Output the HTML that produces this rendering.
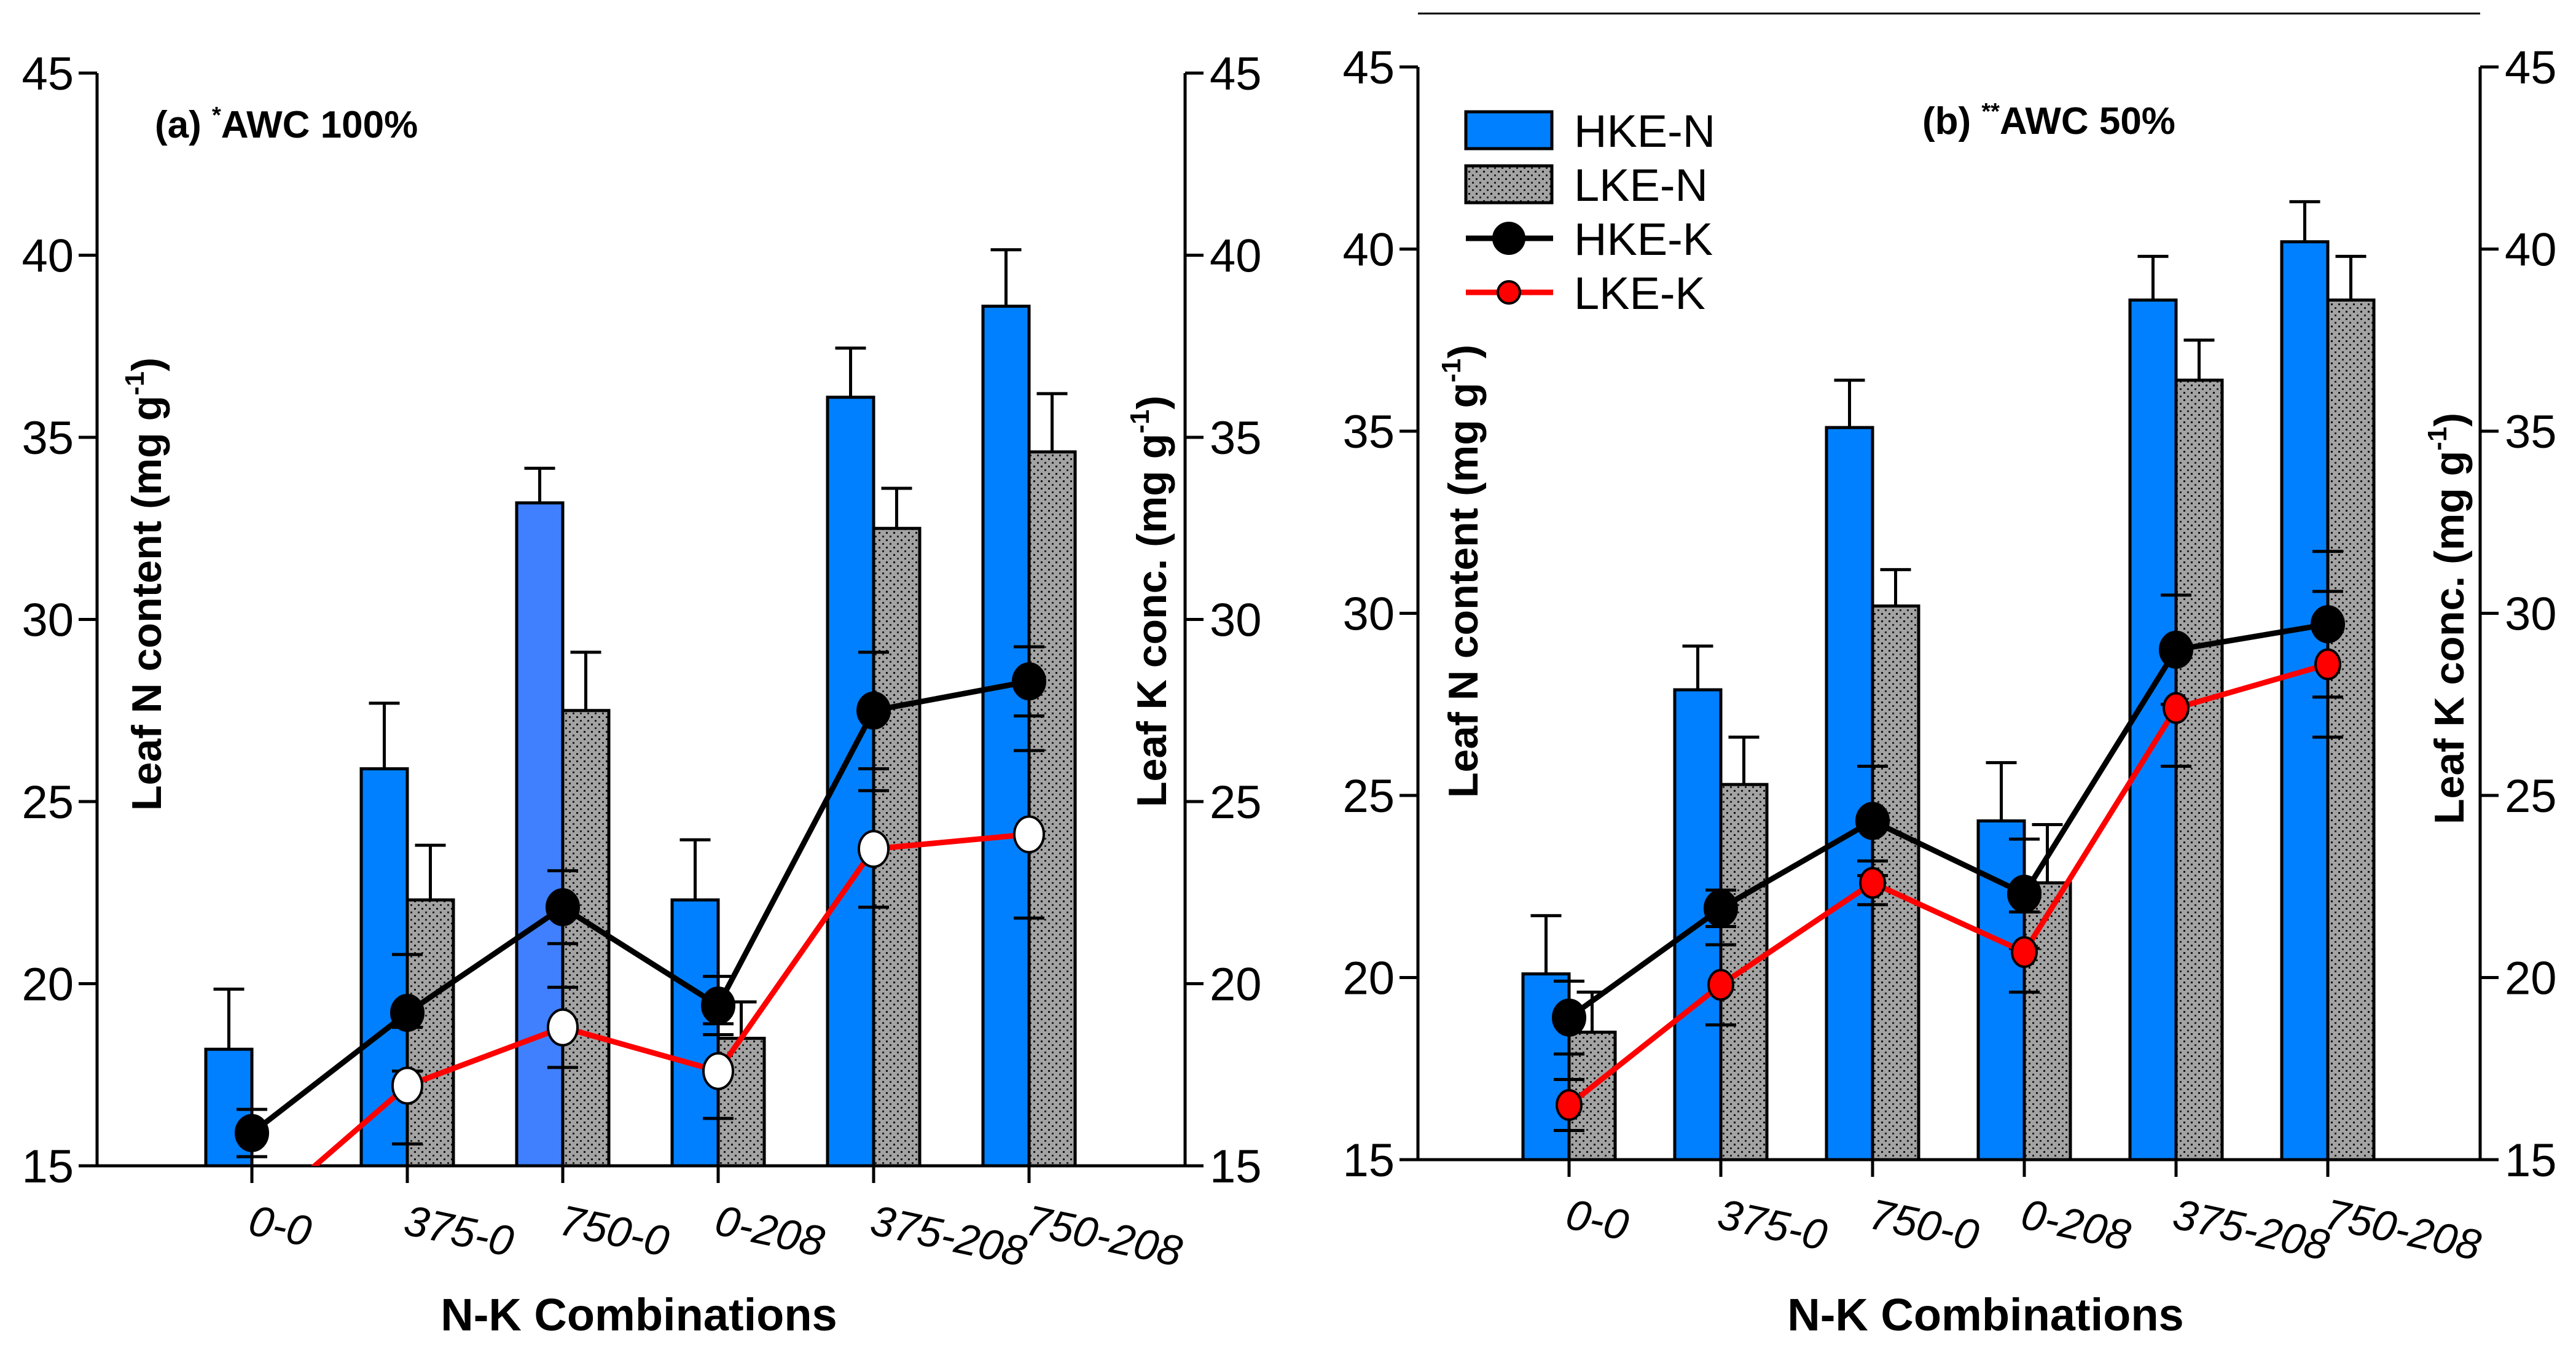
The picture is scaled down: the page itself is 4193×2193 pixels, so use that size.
<!DOCTYPE html>
<html><head><meta charset="utf-8"><style>
html,body{margin:0;padding:0;background:#fff}
svg{display:block}
text{font-family:"Liberation Sans",Arial,sans-serif}
</style></head><body>
<svg id="chart" xmlns="http://www.w3.org/2000/svg" width="4193" height="2193" viewBox="0 0 4193 2193">
<defs>
<pattern id="dots" width="12" height="12" patternUnits="userSpaceOnUse">
<rect width="12" height="12" fill="#a3a3a3"/>
<rect x="2" y="2" width="3" height="3" fill="#111"/>
<rect x="8" y="8" width="3" height="3" fill="#222"/>
</pattern>
<clipPath id="clipA"><rect x="158" y="60" width="1771" height="1838"/></clipPath>
<clipPath id="clipB"><rect x="2308" y="50" width="1729" height="1838"/></clipPath>
</defs>
<line x1="2308" y1="22" x2="4037" y2="22" stroke="#000" stroke-width="3"/>
</svg>
<script>
const categories = ["0-0","375-0","750-0","0-208","375-208","750-208"];
const yTicks = [15,20,25,30,35,40,45];
// Panel (a) AWC 100%
const aHkeN = [18.2,25.9,33.2,22.3,36.1,38.6];
const aHkeNErr = [1.65,1.8,0.95,1.65,1.35,1.55];
const aLkeN = [14,22.3,27.5,18.5,32.5,34.6];
const aLkeNErr = [0,1.5,1.6,1.0,1.1,1.6];
const aHkeK = [15.9,19.2,22.1,19.4,27.5,28.3];
const aHkeKErr = [0.65,1.6,1.0,0.8,1.6,0.95];
const aLkeK = [13.5,17.2,18.8,17.6,23.7,24.1];
const aLkeKErr = [0,1.6,1.1,1.3,1.6,2.3];
// Panel (b) AWC 50%
const bHkeN = [20.1,27.9,35.1,24.3,38.6,40.2];
const bHkeNErr = [1.6,1.2,1.3,1.6,1.2,1.1];
const bLkeN = [18.5,25.3,30.2,22.6,36.4,38.6];
const bLkeNErr = [1.1,1.3,1.0,1.6,1.1,1.2];
const bHkeK = [18.9,21.9,24.3,22.3,29.0,29.7];
const bHkeKErr = [1.0,0.5,1.5,1.5,1.5,2.0];
const bLkeK = [16.5,19.8,22.6,20.7,27.4,28.6];
const bLkeKErr = [0.7,1.1,0.6,1.1,1.6,2.0];

const NS="http://www.w3.org/2000/svg";
const svg=document.getElementById('chart');
function mk(tag,attrs,parent){const e=document.createElementNS(NS,tag);for(const k in attrs)e.setAttribute(k,attrs[k]);(parent||svg).appendChild(e);return e;}

function panel(p){
  const g=mk('g',{});
  
  
  const y=v=>p.y15-(v-15)*(p.y15-p.y45)/30;
  const x=i=>p.x0+i*p.dx;
  const bw=75;
  const axes=mk('g',{},g);
  
  
  mk('line',{x1:p.L,y1:p.y45,x2:p.L,y2:p.y15,stroke:'#000','stroke-width':5},axes);
  mk('line',{x1:p.R,y1:p.y45,x2:p.R,y2:p.y15,stroke:'#000','stroke-width':5},axes);
  mk('line',{x1:p.L,y1:p.y15,x2:p.R,y2:p.y15,stroke:'#000','stroke-width':5},axes);
  yTicks.forEach(t=>{
    mk('line',{x1:p.L-30,y1:y(t),x2:p.L,y2:y(t),stroke:'#000','stroke-width':5},axes);
    mk('line',{x1:p.R,y1:y(t),x2:p.R+30,y2:y(t),stroke:'#000','stroke-width':5},axes);
    const tl=mk('text',{x:p.L-38,y:y(t)+27,'text-anchor':'end','font-size':76},axes);tl.textContent=t;
    
    
    const tr=mk('text',{x:p.R+40,y:y(t)+27,'text-anchor':'start','font-size':76},axes);tr.textContent=t;
    
    
  });
  categories.forEach((c,i)=>{
    mk('line',{x1:x(i),y1:p.y15,x2:x(i),y2:p.y15+28,stroke:'#000','stroke-width':5},axes);
    const t=mk('text',{x:x(i)-4,y:p.y15+112,'font-size':70,'font-style':'italic',transform:`rotate(12 ${x(i)} ${p.y15+90})`},axes);
    t.textContent=c;
    
    
  });
  const xt=mk('text',{x:p.xtX,y:2166,'text-anchor':'middle','font-size':74,'font-weight':'bold'},g);
  xt.textContent='N-K Combinations';
  
  
  const yl=mk('text',{x:0,y:0,'text-anchor':'middle','font-size':68,'font-weight':'bold',transform:`translate(${p.ylX},${p.ylY}) rotate(-90)`},g);
  yl.innerHTML='Leaf N content (mg g<tspan dy="-28" font-size="44">-1</tspan><tspan dy="28">)</tspan>';
  
  
  const yr=mk('text',{x:0,y:0,'text-anchor':'middle','font-size':68,'font-weight':'bold',transform:`translate(${p.yrX},${p.yrY}) rotate(-90)`},g);
  yr.innerHTML='Leaf K conc. (mg g<tspan dy="-28" font-size="44">-1</tspan><tspan dy="28">)</tspan>';
  
  
  const ti=mk('text',{x:p.tX,y:p.tY,'font-size':62,'font-weight':'bold'},g);
  ti.innerHTML=p.title[0]+' <tspan dy="-24" font-size="38">'+p.title[1]+'</tspan><tspan dy="24">'+p.title[2]+'</tspan>';
  
  
  const bars=mk('g',{'clip-path':`url(#${p.clip})`},g);
  
  
  const drawBar=(v,e,i,off,fill,name)=>{
    if(v<=15)return;
    const bx=x(i)+off;
    mk('line',{x1:bx+bw/2,y1:y(v),x2:bx+bw/2,y2:y(v+e),stroke:'#000','stroke-width':5},bars);
    mk('line',{x1:bx+bw/2-25,y1:y(v+e),x2:bx+bw/2+25,y2:y(v+e),stroke:'#000','stroke-width':5},bars);
    const r=mk('rect',{x:bx,y:y(v),width:bw,height:y(15)-y(v),fill:fill,stroke:'#000','stroke-width':5},bars);
    
    
  };
  p.hn.forEach((v,i)=>drawBar(v,p.hne[i],i,-bw,(p.id==='a'&&i===2)?'#4080ff':'#0080ff','bar-hke-n-'+categories[i]));
  p.ln.forEach((v,i)=>drawBar(v,p.lne[i],i,0,'url(#dots)','bar-lke-n-'+categories[i]));
  const drawSeries=(vals,errs,color,mfill,mstroke,name,rx,ry)=>{
    const sg=mk('g',{'clip-path':`url(#${p.clip})`},g);
    
    
    vals.forEach((v,i)=>{ if(errs[i]>0){
      mk('line',{x1:x(i),y1:y(v-errs[i]),x2:x(i),y2:y(v+errs[i]),stroke:'#000','stroke-width':5},sg);
      [v-errs[i],v+errs[i]].forEach(w=>mk('line',{x1:x(i)-25,y1:y(w),x2:x(i)+25,y2:y(w),stroke:'#000','stroke-width':5},sg));
    }});
    mk('polyline',{points:vals.map((v,i)=>x(i)+','+y(v)).join(' '),fill:'none',stroke:color,'stroke-width':9},sg);
    vals.forEach((v,i)=>{ if(v>15){
      const m=mk('ellipse',{cx:x(i),cy:y(v),rx:rx,ry:ry,fill:mfill,stroke:mstroke,'stroke-width':4},sg);
      
      
    }});
  };
  drawSeries(p.hk,p.hke,'#000','#000','#000','series-hke-k',26,29);
  drawSeries(p.lk,p.lke,'#ff0000',p.lkFill,'#000','series-lke-k',p.lkR[0],p.lkR[1]);
}

panel({id:'a',L:158,R:1929,y45:119,y15:1898,x0:410,dx:253,clip:'clipA',
  hn:aHkeN,hne:aHkeNErr,ln:aLkeN,lne:aLkeNErr,hk:aHkeK,hke:aHkeKErr,lk:aLkeK,lke:aLkeKErr,lkFill:'#fff',lkR:[24,29],
  xtX:1040,ylX:262,ylY:951,yrX:1898,yrY:979,tX:252,tY:224,title:['(a)','*','AWC 100%']});
panel({id:'b',L:2308,R:4037,y45:109,y15:1888,x0:2554,dx:247,clip:'clipB',
  hn:bHkeN,hne:bHkeNErr,ln:bLkeN,lne:bLkeNErr,hk:bHkeK,hke:bHkeKErr,lk:bLkeK,lke:bLkeKErr,lkFill:'#ff0000',lkR:[20,24],
  xtX:3232,ylX:2405,ylY:930,yrX:4010,yrY:1007,tX:3129,tY:218,title:['(b)','**','AWC 50%']});

const lg=mk('g',{});


const legendLabels=['HKE-N','LKE-N','HKE-K','LKE-K'];
const rowY=[212,300,388,476];
legendLabels.forEach((lab,i)=>{
  const e=mk('g',{},lg);
  
  
  if(i<2){mk('rect',{x:2386,y:rowY[i]-30,width:140,height:60,fill:i?'url(#dots)':'#0080ff',stroke:'#000','stroke-width':5},e);}
  else{mk('line',{x1:2386,y1:rowY[i],x2:2528,y2:rowY[i],stroke:i===2?'#000':'#ff0000','stroke-width':9},e);
    mk('ellipse',{cx:2456,cy:rowY[i],rx:i===2?25:18,ry:i===2?25:18,fill:i===2?'#000':'#ff0000',stroke:'#000','stroke-width':4},e);}
  const t=mk('text',{x:2562,y:rowY[i]+27,'font-size':74},e);t.textContent=lab;
});
</script>
</body></html>
